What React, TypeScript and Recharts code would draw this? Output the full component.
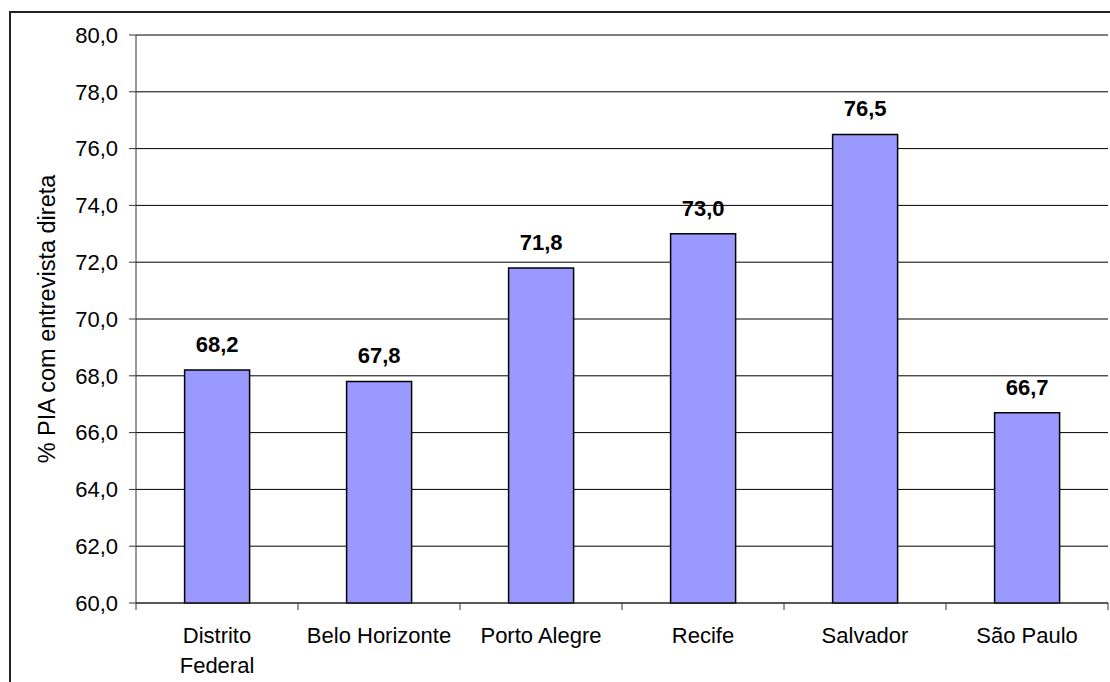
import { Bar, BarChart, CartesianGrid, LabelList, XAxis, YAxis } from "recharts";

const cities = ["Distrito Federal", "Belo Horizonte", "Porto Alegre", "Recife", "Salvador", "São Paulo"];
const cityLines = [["Distrito", "Federal"], ["Belo Horizonte"], ["Porto Alegre"], ["Recife"], ["Salvador"], ["São Paulo"]];
const shares = [68.2, 67.8, 71.8, 73.0, 76.5, 66.7];
const yTicks = [60, 62, 64, 66, 68, 70, 72, 74, 76, 78, 80];

const data = cities.map((city, i) => ({ city, value: shares[i] }));

const FONT = "'Liberation Sans', Arial, sans-serif";
const fmt = (v: number) => v.toFixed(1).replace(".", ",");

function CityTick(props: any) {
  const { x, y, payload, index, visibleTicksCount, width } = props;
  const half = payload.offset ?? width / visibleTicksCount / 2;
  const lines = cityLines[index] ?? [String(payload.value)];
  return (
    <g>
      <line x1={x - half} x2={x - half} y1={y} y2={y + 7} stroke="#333" />
      {index === visibleTicksCount - 1 && <line x1={x + half} x2={x + half} y1={y} y2={y + 7} stroke="#333" />}
      <text textAnchor="middle" fontSize={22} fontFamily={FONT} fill="#000">
        {lines.map((line: string, i: number) => (
          <tspan key={i} x={x} y={y + 40 + i * 30}>
            {line}
          </tspan>
        ))}
      </text>
    </g>
  );
}

function AxisTitle(props: any) {
  const vb = props.viewBox;
  const cx = vb.x + 47;
  const cy = vb.y + vb.height / 2;
  return (
    <text
      x={cx}
      y={cy}
      transform={`rotate(-90, ${cx}, ${cy})`}
      textAnchor="middle"
      dominantBaseline="central"
      fontSize={23.5}
      fontFamily={FONT}
      fill="#000"
    >
      % PIA com entrevista direta
    </text>
  );
}

export default function App() {
  return (
    <div style={{ position: "absolute", left: 0, top: 0, width: 1110, height: 682, overflow: "hidden", background: "#fff" }}>
      <div
        style={{
          position: "absolute",
          left: 9,
          top: 11,
          width: 1200,
          height: 800,
          border: "2px solid #222",
        }}
      />
      <BarChart
        width={1110}
        height={682}
        data={data}
        margin={{ top: 35, right: 2, bottom: 0, left: 0 }}
        barCategoryGap="30%"
        style={{ position: "absolute", left: 0, top: 0 }}
      >
        <CartesianGrid vertical={false} stroke="#000" strokeDasharray="" />
        <XAxis
          dataKey="city"
          height={79}
          interval={0}
          tickLine={false}
          tickSize={0}
          tickMargin={0}
          axisLine={{ stroke: "#333" }}
          tick={<CityTick />}
        />
        <XAxis xAxisId="top" orientation="top" dataKey="city" height={0} tick={false} tickLine={false} axisLine={{ stroke: "#888" }} />
        <YAxis
          width={136}
          domain={[60, 80]}
          ticks={yTicks}
          interval={0}
          tickFormatter={fmt}
          tickSize={7}
          tickMargin={11}
          tickLine={{ stroke: "#333" }}
          axisLine={{ stroke: "#333" }}
          tick={{ fill: "#000", fontSize: 22, fontFamily: FONT }}
          label={{ content: <AxisTitle /> }}
        />
        <YAxis yAxisId="right" orientation="right" width={0} tick={false} tickLine={false} axisLine={{ stroke: "#888" }} />
        <Bar dataKey="value" fill="#9999FF" stroke="#000" strokeWidth={1.5} isAnimationActive={false}>
          <LabelList
            dataKey="value"
            position="top"
            offset={18}
            formatter={(v: any) => fmt(Number(v))}
            style={{ fontWeight: "bold", fontSize: 22, fontFamily: FONT, fill: "#000" }}
          />
        </Bar>
      </BarChart>
    </div>
  );
}
